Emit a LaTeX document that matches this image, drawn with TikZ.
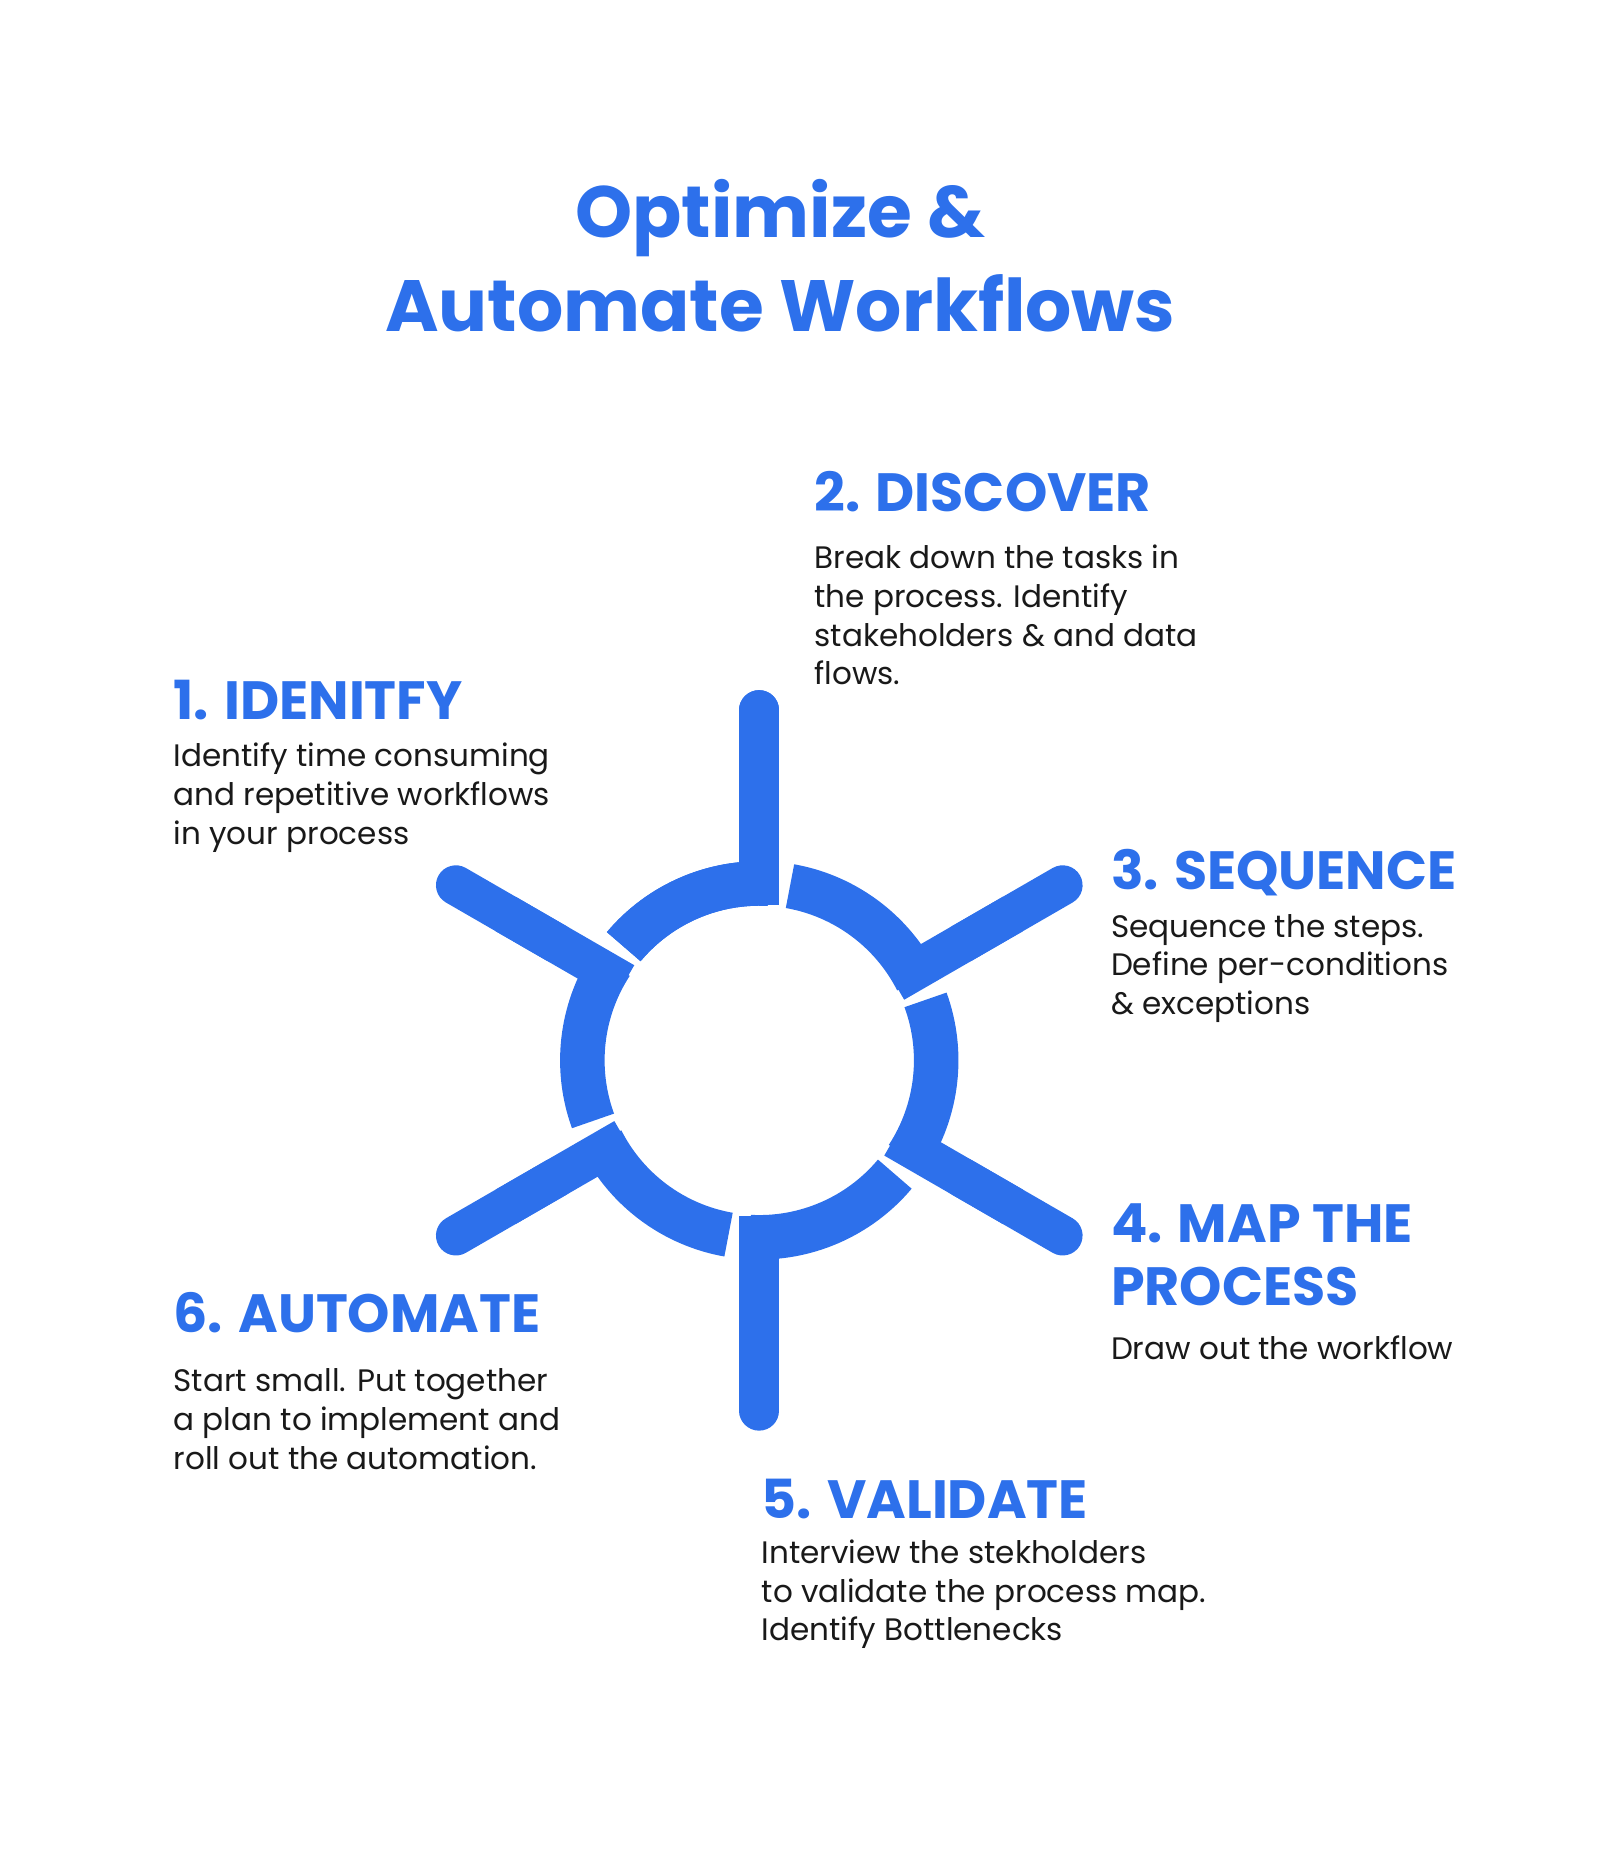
\documentclass[tikz,border=0pt]{standalone}
\usepackage{fontspec}
\setmainfont{Poppins}
\usetikzlibrary{calc}
\definecolor{wfblue}{RGB}{45,112,235}
\definecolor{wftext}{RGB}{25,25,25}
\tikzset{
  ring/.style={draw=wfblue, line width=38pt, line cap=butt},
  spoke/.style={draw=wfblue, line width=34pt},
  heading/.style={anchor=north west, inner sep=0pt, text=wfblue, font=\fontsize{46}{54}\selectfont\bfseries, align=left},
  body/.style={anchor=north west, inner sep=0pt, text=wftext, font=\fontsize{26.5}{33}\selectfont, align=left}
}
\begin{document}
\begin{tikzpicture}[x=1pt,y=-1pt]
\useasboundingbox (0,0) rectangle (1366,1590);
% title
\node[text=wfblue, font=\fontsize{62}{80}\selectfont\bfseries, align=center, inner sep=0pt] (title) at (666,218) {Optimize \&\\Automate Workflows};
% hub: six arcs, each with a spoke
\coordinate (hub) at (648,905);
\foreach \a in {90,150,...,450} {
  \draw[ring] ($(hub)+({cos(\a-3)*151},{-sin(\a-3)*151})$) arc[start angle=-\a+3, end angle=-\a-50, radius=151];
  \draw[spoke, line cap=butt] ($(hub)+({cos(\a)*133},{-sin(\a)*133})$) -- ($(hub)+({cos(\a)*250},{-sin(\a)*250})$);
  \draw[spoke, line cap=round] ($(hub)+({cos(\a)*200},{-sin(\a)*200})$) -- ($(hub)+({cos(\a)*299},{-sin(\a)*299})$);
}
% steps
\node[heading] (h1) at (148,580) {1. IDENITFY};
\node[body] (b1) at (148,634) {Identify time consuming\\and repetitive workflows\\in your process};
\node[heading] (h2) at (695,402) {2. DISCOVER};
\node[body] (b2) at (695,465) {Break down the tasks in\\the process. Identify\\stakeholders \& and data\\flows.};
\node[heading] (h3) at (948,725) {3. SEQUENCE};
\node[body] (b3) at (948,780) {Sequence the steps.\\Define per-conditions\\\& exceptions};
\node[heading] (h4) at (948,1027) {4. MAP THE\\PROCESS};
\node[body] (b4) at (948,1140) {Draw out the workflow};
\node[heading] (h5) at (650,1262) {5. VALIDATE};
\node[body] (b5) at (650,1314) {Interview the stekholders\\to validate the process map.\\Identify Bottlenecks};
\node[heading] (h6) at (148,1103) {6. AUTOMATE};
\node[body] (b6) at (148,1168) {Start small. Put together\\a plan to implement and\\roll out the automation.};
\end{tikzpicture}
\end{document}
